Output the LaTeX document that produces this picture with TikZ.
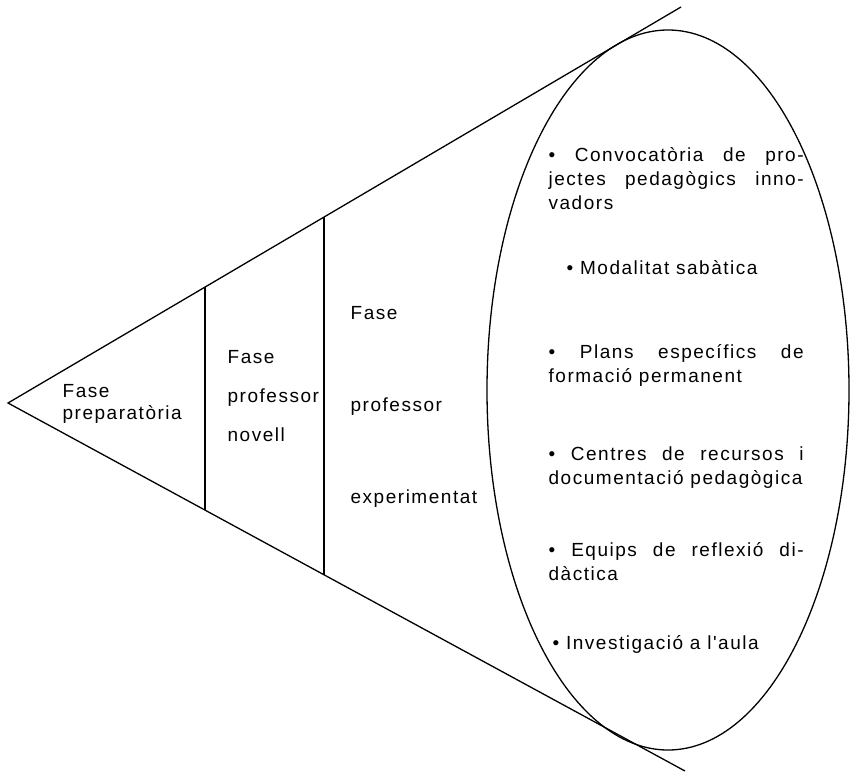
\documentclass[tikz,border=0pt]{standalone}
\usepackage{fontspec}
\newfontfamily\phasefont{Liberation Sans}[LetterSpace=8]
\tikzset{
    phase text/.style = {
        anchor = west,
        align = left,
        inner sep = 0pt,
        font = \phasefont\fontsize{19}{22}\selectfont
    },
    item text/.style = {
        anchor = north west,
        align = justify,
        text width = 255pt,
        inner sep = 0pt,
        font = \phasefont\fontsize{19}{24}\selectfont
    }
}

\begin{document}
\begin{tikzpicture}[x=1pt, y=-1pt, line width=1.3pt]
        \useasboundingbox (0,0) rectangle (852,772);

        \coordinate (apex) at (8,403);
        \coordinate (top) at (681,7);
        \coordinate (bot) at (685,771);
        \coordinate (n1) at (205,287);
        \coordinate (s1) at (205,510);
        \coordinate (n2) at (324,217);
        \coordinate (s2) at (324,575);

        \draw (top) -- (apex) -- (bot);
        \draw (n1) -- (s1);
        \draw (n2) -- (s2);
        \draw (668,390) ellipse [x radius=181pt, y radius=360pt];

        \node[phase text] (prep) at (62,404) {Fase\\preparatòria};
        \node[phase text] (novell) at (227,396) {Fase\\[17pt]professor\\[17pt]novell};
        \node[phase text] (exp) at (350,407) {Fase\\[70pt]professor\\[70pt]experimentat};

        \node[item text] (conv) at (548,144) {\strut• Convocatòria de pro-\linebreak jectes pedagògics inno-\linebreak vadors};
        \node[item text] (sab) at (566,257) {\strut• Modalitat sabàtica};
        \node[item text] (plans) at (548,341) {\strut• Plans específics de\linebreak formació permanent};
        \node[item text] (centres) at (548,443) {\strut• Centres de recursos i\linebreak documentació pedagògica};
        \node[item text] (equips) at (548,539) {\strut• Equips de reflexió di-\linebreak dàctica};
        \node[item text] (aula) at (552,632) {\strut• Investigació a l'aula};

    \end{tikzpicture}
\end{document}
